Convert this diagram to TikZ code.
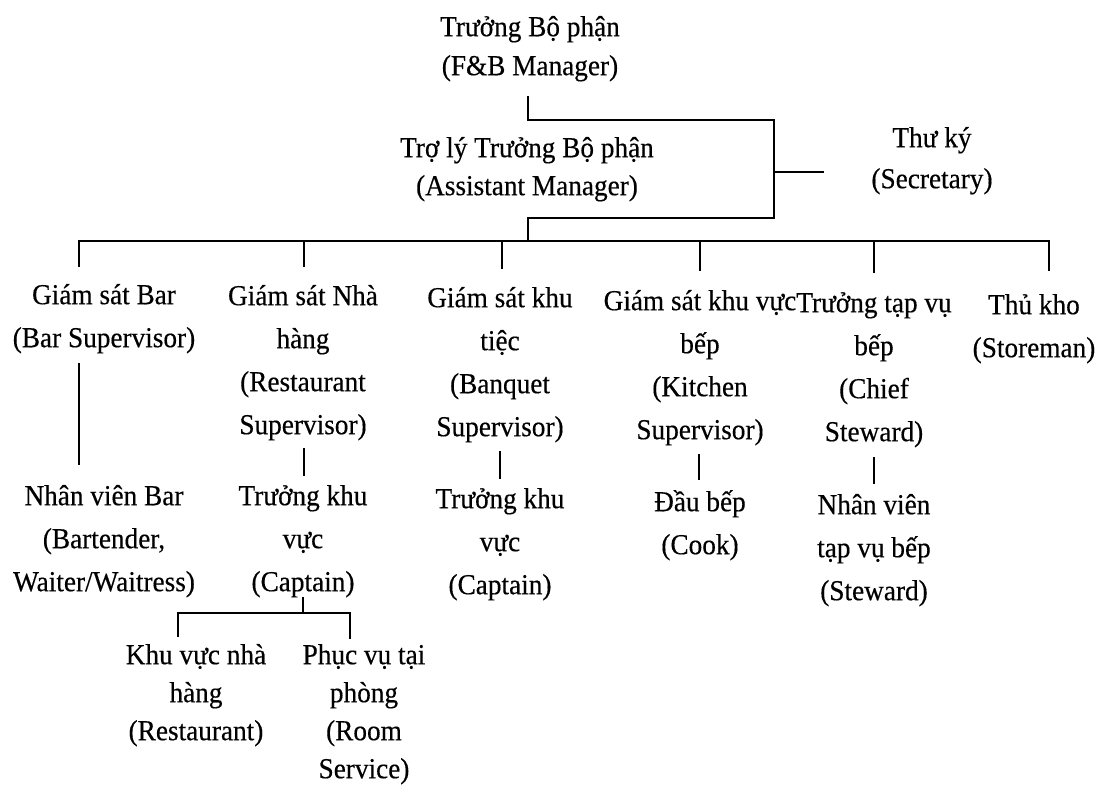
\documentclass[tikz,border=0pt]{standalone}
\usepackage{fontspec}
\setmainfont{Liberation Serif}[FakeBold=0.35,FakeStretch=0.94]
\newcommand\myTop{\rule{0pt}{28pt}}
\begin{document}
\begin{tikzpicture}[x=1pt,y=-1pt,
  lbl/.style={align=center, inner sep=0pt, anchor=north, font=\fontsize{29}{43}\selectfont},
  conn/.style={line width=2.2pt, line cap=rect}]
\useasboundingbox (0,0) rectangle (1096,790);
% nodes
\node[lbl, font=\fontsize{29}{39}\selectfont] (mgr) at (530,8) {\myTop Trưởng Bộ phận\\(F\&B Manager)};
\node[lbl, font=\fontsize{29}{38}\selectfont] (asst) at (527,129) {\myTop Trợ lý Trưởng Bộ phận\\(Assistant Manager)};
\node[lbl, font=\fontsize{29}{41}\selectfont] (sec) at (932,119) {\myTop Thư ký\\(Secretary)};
\node[lbl] (bar) at (104,276) {\myTop Giám sát Bar\\(Bar Supervisor)};
\node[lbl] (nh) at (303,277) {\myTop Giám sát Nhà\\hàng\\(Restaurant\\Supervisor)};
\node[lbl] (bq) at (500,279) {\myTop Giám sát khu\\tiệc\\(Banquet\\Supervisor)};
\node[lbl] (kit) at (700,282) {\myTop Giám sát khu vực\\bếp\\(Kitchen\\Supervisor)};
\node[lbl] (stw) at (874,284) {\myTop Trưởng tạp vụ\\bếp\\(Chief\\Steward)};
\node[lbl] (sto) at (1034,286) {\myTop Thủ kho\\(Storeman)};
\node[lbl] (barst) at (104,477) {\myTop Nhân viên Bar\\(Bartender,\\Waiter/Waitress)};
\node[lbl] (nhcap) at (303,477) {\myTop Trưởng khu\\vực\\(Captain)};
\node[lbl] (bqcap) at (500,480) {\myTop Trưởng khu\\vực\\(Captain)};
\node[lbl] (cook) at (700,483) {\myTop Đầu bếp\\(Cook)};
\node[lbl] (stwst) at (874,486) {\myTop Nhân viên\\tạp vụ bếp\\(Steward)};
\node[lbl, font=\fontsize{29}{38}\selectfont] (rest) at (196,636) {\myTop Khu vực nhà\\hàng\\(Restaurant)};
\node[lbl, font=\fontsize{29}{38}\selectfont] (room) at (364,636) {\myTop Phục vụ tại\\phòng\\(Room\\Service)};
% junction coordinates
\coordinate (m1) at (528,97);
\coordinate (m2) at (528,120);
\coordinate (s1) at (774,120);
\coordinate (s2) at (774,218);
\coordinate (a1) at (528,218);
\coordinate (busc) at (528,241);
\coordinate (secj) at (774,172);
\coordinate (secend) at (823,172);
\coordinate (busL) at (79,241);
\coordinate (busR) at (1049,241);
% connectors
\draw[conn] (m1) -- (m2) -- (s1) -- (s2) -- (a1) -- (busc);
\draw[conn] (secj) -- (secend);
\draw[conn] (79,266) -- (busL) -- (busR) -- (1049,270);
\draw[conn] (304,241) -- (304,266);
\draw[conn] (502,241) -- (502,268);
\draw[conn] (700,241) -- (700,270);
\draw[conn] (874,241) -- (874,272);
\draw[conn] (79,364) -- (79,464);
\draw[conn] (304,449) -- (304,475);
\draw[conn] (500,452) -- (500,478);
\draw[conn] (699,455) -- (699,479);
\draw[conn] (874,458) -- (874,483);
\coordinate (c1) at (303,598);
\coordinate (c2) at (303,613);
\coordinate (cl) at (178,613);
\coordinate (cr) at (350,613);
\draw[conn] (c1) -- (c2);
\draw[conn] (178,636) -- (cl) -- (cr) -- (350,638);
\end{tikzpicture}
\end{document}
